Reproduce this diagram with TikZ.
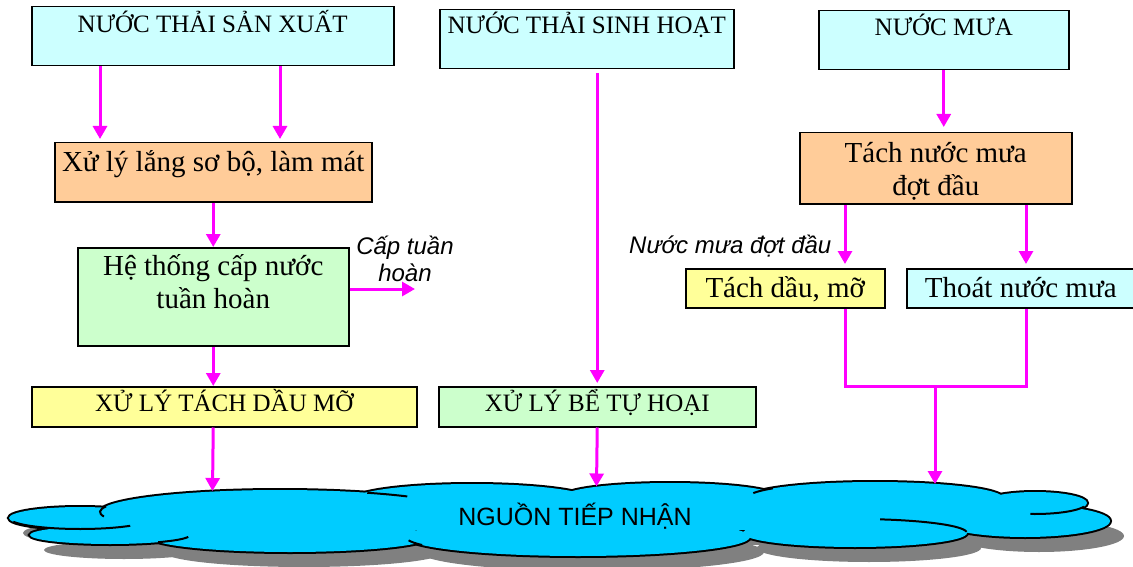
\documentclass[tikz,border=0pt]{standalone}
\usepackage{fontspec}
\setmainfont{Liberation Serif}
\newfontfamily\labelsans{Liberation Sans}
\usetikzlibrary{arrows.meta}

\definecolor{boxcyan}{HTML}{CCFFFF}
\definecolor{boxorange}{HTML}{FFCC99}
\definecolor{boxgreen}{HTML}{CCFFCC}
\definecolor{boxyellow}{HTML}{FFFF99}
\definecolor{flowpink}{HTML}{FF00FF}
\definecolor{cloudblue}{HTML}{00CCFF}
\definecolor{cloudshade}{HTML}{808080}

% two centred lines, baseline on the first one
\newcommand\tln[2]{\vtop{\halign{\hfil##\hfil\cr#1\cr#2\cr}}}

% the lobes that make up the receiving-water cloud
\newcommand\cloudlobes[1]{%
  \foreach \cx/\cy/\rx/\ry in {80/518/71/11, 280/512/180/22, 472/500/120/16,
      670/497/108/14, 875/498/128/16, 1035/503/52/11, 1025/521/85/16,
      855/533/112/14, 578/537/172/19, 290/537/140/15, 110/535/80/9}
    {\path[#1] (\cx,\cy) ellipse [x radius=\rx pt, y radius=\ry pt];}%
  \path[#1, draw=none] (120,505) rectangle (1050,530);
}
% one visible inner edge of a lobe: centre, radii, start and end angle
\newcommand\lobeedge[6]{%
  \draw[cloudline] (#1) ++(#4:#2pt and #3pt) arc[start angle=#4, end angle=#5, x radius=#2pt, y radius=#3pt];%
}

\begin{document}
\begin{tikzpicture}[x=1pt,y=-1pt,
  stage/.style={draw=black, line width=1.5pt, inner xsep=0pt, inner ysep=0pt,
                anchor=north west, minimum height=0pt},
  caps/.style={font=\fontsize{25}{29}\selectfont},
  lower/.style={font=\fontsize{29}{33}\selectfont},
  flow/.style={draw=flowpink, line width=3pt},
  arr/.style={flow, -{Triangle[length=13pt,width=14pt]}},
  note/.style={font=\labelsans\itshape\fontsize{24}{27.5}\selectfont, inner sep=0pt},
  cloudline/.style={draw=black, line width=2pt},
]
\useasboundingbox (0,0) rectangle (1133,567);

% ---- receiving water (cloud) ----
\cloudlobes{fill=cloudshade, shift={(14,15)}}
\cloudlobes{draw=black, line width=4pt}
\cloudlobes{fill=cloudblue}
\lobeedge{80,518}{71}{11}{200}{315}{}
\lobeedge{280,512}{180}{22}{165}{192}{}
\lobeedge{280,512}{180}{22}{61}{45}{}
\lobeedge{875,498}{128}{16}{162}{143}{}
\lobeedge{1035,503}{52}{11}{-20}{-95}{}
\lobeedge{855,533}{112}{14}{77}{5}{}
\lobeedge{578,537}{172}{19}{190}{205}{}
\lobeedge{110,535}{80}{9}{-53}{-12}{}
\node[font=\labelsans\fontsize{25}{30}\selectfont, anchor=base, inner sep=0pt] (recv) at (575,525) {NGUỒN TIẾP NHẬN};

% ---- boxes ----
\node[stage, fill=boxcyan, caps, minimum width=362pt, text height=25.5pt, text depth=33.5pt] (nsx) at (31,6) {NƯỚC THẢI SẢN XUẤT};
\node[stage, fill=boxcyan, caps, minimum width=294pt, text height=24pt, text depth=35pt] (nsh) at (439,9) {NƯỚC THẢI SINH HOẠT};
\node[stage, fill=boxcyan, caps, minimum width=250pt, text height=25pt, text depth=34pt] (nm) at (818,10) {NƯỚC MƯA};
\node[stage, fill=boxorange, lower, minimum width=317pt, text height=29pt, text depth=30pt] (xl) at (54,142) {Xử lý lắng sơ bộ, làm mát};
\node[stage, fill=boxgreen, lower, minimum width=271pt, text height=28pt, text depth=70pt] (ht) at (77,247) {\tln{Hệ thống cấp nước}{tuần hoàn}};
\node[stage, fill=boxyellow, caps, minimum width=385pt, text height=25pt, text depth=15pt] (xs) at (31,386) {XỬ LÝ TÁCH DẦU MỠ};
\node[stage, fill=boxgreen, caps, minimum width=317pt, text height=25pt, text depth=15pt] (bs) at (438,386) {XỬ LÝ BỂ TỰ HOẠI};
\node[stage, fill=boxorange, lower, minimum width=272pt, text height=29.7pt, text depth=41.3pt] (tach) at (799,132) {\tln{Tách nước mưa}{đợt đầu}};
\node[stage, fill=boxyellow, lower, minimum width=199pt, text height=29pt, text depth=10pt] (td) at (685,268) {Tách dầu, mỡ};
\node[stage, fill=boxcyan, lower, minimum width=228pt, text height=29pt, text depth=10pt] (thoat) at (906,268) {Thoát nước mưa};

% ---- labels ----
\node[note, anchor=base west] (nmdd) at (629,253) {Nước mưa đợt đầu};
\node[note, anchor=base] (cth) at (405,254) {\tln{Cấp tuần}{hoàn}};

% ---- flow connectors ----
\coordinate (xa) at (100,0);
\coordinate (xb) at (280,0);
\coordinate (cthend) at (415,289);
\coordinate (in1) at (212.5,491);
\coordinate (in2) at (596.5,486.5);
\coordinate (in3) at (935,484);
\coordinate (jl) at (845,386);
\coordinate (jr) at (1026,386);
\coordinate (jm) at (935,386);

\draw[arr, shorten >=3pt] (nsx.south -| xa) -- (xl.north -| xa);
\draw[arr, shorten >=3pt] (nsx.south -| xb) -- (xl.north -| xb);
\draw[arr] (xl.south) -- (ht.north);
\draw[arr] (ht.east |- cthend) -- (cthend);
\draw[arr] (ht.south) -- (ht.south |- xs.north);
\draw[arr] (xs.south -| ht.south) -- (in1);
\draw[arr, shorten <=4pt, shorten >=3pt] (nsh.south -| bs.north) -- (bs.north);
\draw[arr] (bs.south) -- (in2);
\draw[arr, shorten >=5pt] (nm.south) -- (nm.south |- tach.north);
\draw[arr, shorten >=4pt] (tach.south -| jl) -- (td.north -| jl);
\draw[arr, shorten >=4pt] (tach.south -| jr) -- (thoat.north -| jr);
\draw[flow] (td.south -| jl) -- (jl) -- (jr) -- (thoat.south -| jr);
\draw[arr] (jm) -- (in3);
\end{tikzpicture}
\end{document}
